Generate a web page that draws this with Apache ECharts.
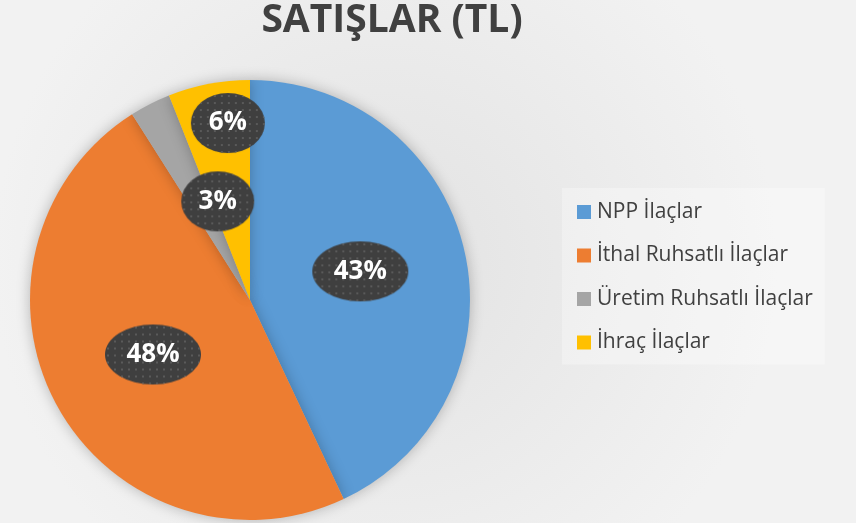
<!DOCTYPE html>
<html>
<head>
<meta charset="utf-8">
<script src="https://cdn.jsdelivr.net/npm/echarts@6/dist/echarts.min.js"></script>
<style>
  html, body { margin: 0; padding: 0; }
  #chart { width: 856px; height: 523px; }
</style>
</head>
<body>
<div id="chart"></div>
<script>
// veriler
const categories = ['NPP İlaçlar', 'İthal Ruhsatlı İlaçlar', 'Üretim Ruhsatlı İlaçlar', 'İhraç İlaçlar'];
const values = [43, 48, 3, 6];
const colors = ['#5b9bd5', '#ed7d31', '#a5a5a5', '#ffc000'];
// etiket kaydırma (iç konumdan)
const labelShift = [[0, -4], [2, 0], [19, 2], [-1, -66]];
const labelWidth = [98, 98, 75, 76];

// noktalı elips arka planı
function ellipseBg(w, h) {
  const c = document.createElement('canvas');
  c.width = w; c.height = h;
  const ctx = c.getContext('2d');
  ctx.beginPath();
  ctx.ellipse(w / 2, h / 2, w / 2 - 1, h / 2 - 1, 0, 0, Math.PI * 2);
  ctx.fillStyle = '#3f3f3f';
  ctx.fill();
  ctx.save();
  ctx.clip();
  ctx.fillStyle = '#5a5a5a';
  for (let y = 3; y < h; y += 7) {
    for (let x = 3; x < w; x += 7) {
      ctx.fillRect(x, y, 2, 2);
    }
  }
  ctx.restore();
  return c;
}

const chart = echarts.init(document.getElementById('chart'));

const option = {
  backgroundColor: {
    type: 'radial', x: 0.45, y: 0.5, r: 0.75,
    colorStops: [
      { offset: 0, color: '#e2e2e2' },
      { offset: 1, color: '#f2f2f2' }
    ]
  },
  title: {
    text: 'SATIŞLAR (TL)',
    left: 387,
    top: -4,
    textAlign: 'center',
    textStyle: { fontFamily: 'Open Sans', fontWeight: 'bold', fontSize: 39, color: '#404040' }
  },
  legend: {
    orient: 'vertical',
    left: 562,
    top: 188,
    padding: [13, 12, 11, 15],
    backgroundColor: 'rgba(255,255,255,0.3)',
    itemWidth: 14,
    itemHeight: 14,
    itemGap: 21.5,
    icon: 'rect',
    data: categories,
    textStyle: { fontFamily: 'Open Sans', fontSize: 21, lineHeight: 22, color: '#404040', padding: [0, 0, 0, 1] }
  },
  series: [{
    type: 'pie',
    center: [250, 300],
    radius: 220,
    startAngle: 90,
    clockwise: true,
    silent: true,
    itemStyle: {
      shadowBlur: 14,
      shadowColor: 'rgba(0,0,0,0.25)'
    },
    labelLayout: function (p) {
      const s = labelShift[p.dataIndex];
      return { dx: s[0], dy: s[1] };
    },
    data: categories.map(function (name, i) {
      return {
        name: name,
        value: values[i],
        itemStyle: { color: colors[i] },
        label: {
          width: labelWidth[i],
          height: 62,
          backgroundColor: { image: ellipseBg(labelWidth[i], 62) }
        }
      };
    }),
    label: {
      show: true,
      position: 'inside',
      formatter: '{d}%',
      fontFamily: 'Open Sans',
      fontWeight: 'bold',
      fontSize: 26,
      color: '#ffffff',
      align: 'center',
      verticalAlign: 'middle',
      lineHeight: 62,
      padding: 0,
      shadowBlur: 6,
      shadowOffsetX: 3,
      shadowOffsetY: 3,
      shadowColor: 'rgba(0,0,0,0.35)'
    }
  }]
};

chart.setOption(option);
</script>
</body>
</html>
